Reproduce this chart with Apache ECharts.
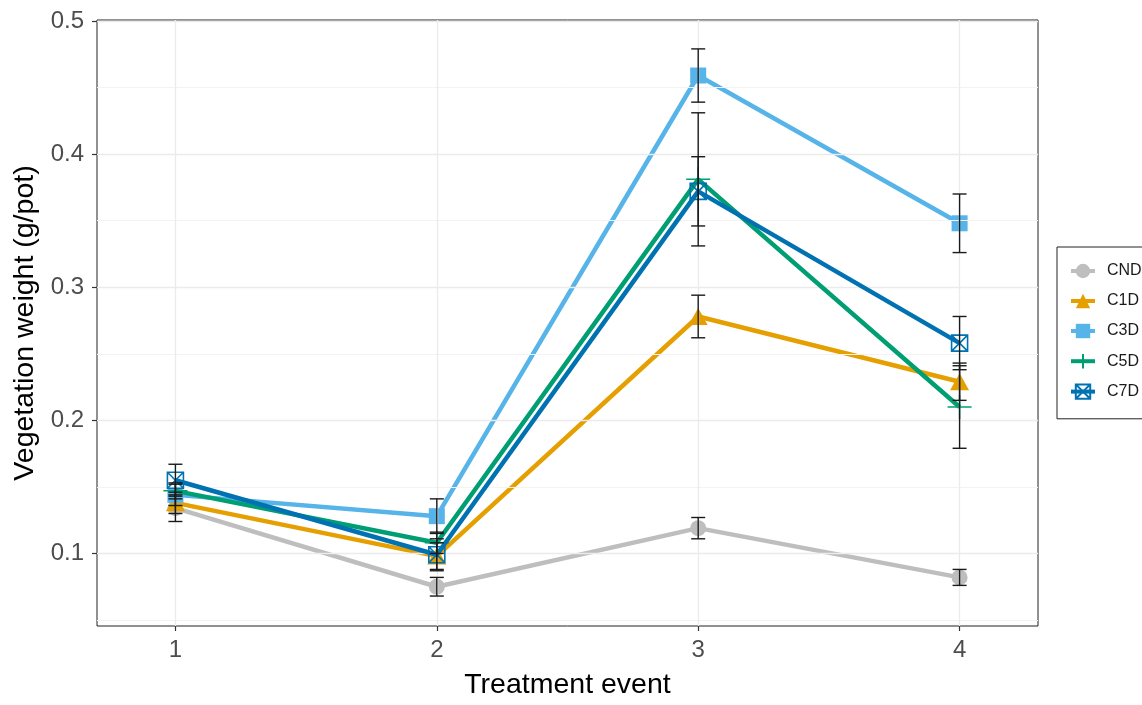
<!DOCTYPE html>
<html>
<head>
<meta charset="utf-8">
<script src="https://cdn.jsdelivr.net/npm/echarts@6/dist/echarts.min.js"></script>
<style>
html,body{margin:0;padding:0;background:#fff;}
#chart{width:1142px;height:705px;}
</style>
</head>
<body>
<div id="chart"></div>
<script>
// ---- data ----
const events = [1, 2, 3, 4];
const groups = ['CND', 'C1D', 'C3D', 'C5D', 'C7D'];
const CND = [0.134, 0.075, 0.119, 0.082];
const C1D = [0.138, 0.098, 0.278, 0.229];
const C3D = [0.144, 0.128, 0.459, 0.348];
const C5D = [0.147, 0.108, 0.381, 0.210];
const C7D = [0.155, 0.099, 0.372, 0.258];
const CND_se = [0.010, 0.007, 0.008, 0.006];
const C1D_se = [0.008, 0.010, 0.016, 0.014];
const C3D_se = [0.008, 0.013, 0.020, 0.022];
const C5D_se = [0.006, 0.008, 0.050, 0.031];
const C7D_se = [0.012, 0.012, 0.026, 0.020];
const yTicks = [0.1, 0.2, 0.3, 0.4, 0.5];
const yMinor = [0.05, 0.15, 0.25, 0.35, 0.45];
const xTicks = [1, 2, 3, 4];

const values = {CND, C1D, C3D, C5D, C7D};
const errs = {CND: CND_se, C1D: C1D_se, C3D: C3D_se, C5D: C5D_se, C7D: C7D_se};
const colors = {CND: '#BEBEBE', C1D: '#E69F00', C3D: '#56B4E9', C5D: '#009E73', C7D: '#0072B2'};
const symbols = {
  CND: 'circle',
  C1D: 'triangle',
  C3D: 'rect',
  C5D: 'path://M0,-10 L0,10 M-10,0 L10,0',
  C7D: 'path://M0,0 L10,0 L10,10 L0,10 Z M0,0 L10,10 M10,0 L0,10'
};
const sizes = {CND: 16, C1D: [19, 17], C3D: 16, C5D: 24, C7D: 16};

const series = [];
// grid lines drawn through axes (markLine)
series.push({
  type: 'line', data: [], silent: true, z: 0,
  markLine: {
    silent: true, symbol: ['none', 'none'], label: {show: false}, animation: false,
    emphasis: {disabled: true},
    data: [
      ...yMinor.map(v => ({yAxis: v, lineStyle: {color: '#f3f3f3', width: 1, type: 'solid'}})),
      ...yTicks.map(v => ({yAxis: v, lineStyle: {color: '#ebebeb', width: 1.3, type: 'solid'}})),
      ...xTicks.map(v => ({xAxis: v, lineStyle: {color: '#ebebeb', width: 1.3, type: 'solid'}}))
    ]
  }
});

groups.forEach((g, gi) => {
  const hollow = g === 'C5D' || g === 'C7D';
  series.push({
    name: g,
    type: 'line',
    data: events.map((x, i) => [x, values[g][i]]),
    symbol: symbols[g],
    symbolSize: sizes[g],
    showSymbol: true,
    z: 2 + gi,
    lineStyle: {color: colors[g], width: 4.5},
    itemStyle: hollow
      ? {color: 'rgba(0,0,0,0)', borderColor: colors[g], borderWidth: g === 'C5D' ? 1.5 : 1.6}
      : {color: colors[g], borderWidth: 0},
    emphasis: {disabled: true}
  });
});

// error bars
const errData = [];
groups.forEach(g => {
  events.forEach((x, i) => {
    errData.push([x, values[g][i] - errs[g][i], values[g][i] + errs[g][i]]);
  });
});
series.push({
  type: 'custom',
  z: 20,
  silent: true,
  data: errData,
  encode: {x: 0, y: [1, 2]},
  renderItem: function (params, api) {
    const x = api.value(0);
    const lo = api.coord([x, api.value(1)]);
    const hi = api.coord([x, api.value(2)]);
    const hw = 7;
    const st = {stroke: '#1a1a1a', lineWidth: 1.4};
    return {
      type: 'group',
      children: [
        {type: 'line', shape: {x1: lo[0], y1: lo[1], x2: hi[0], y2: hi[1]}, style: st},
        {type: 'line', shape: {x1: lo[0] - hw, y1: lo[1], x2: lo[0] + hw, y2: lo[1]}, style: st},
        {type: 'line', shape: {x1: hi[0] - hw, y1: hi[1], x2: hi[0] + hw, y2: hi[1]}, style: st}
      ]
    };
  }
});

const chart = echarts.init(document.getElementById('chart'), null, {renderer: 'canvas'});
chart.setOption({
  animation: false,
  backgroundColor: '#ffffff',
  textStyle: {fontFamily: 'Liberation Sans, Arial, sans-serif'},
  grid: {left: 97, right: 104, top: 20, bottom: 75, show: true, borderColor: '#222222', borderWidth: 1, backgroundColor: 'transparent'},
  legend: {
    data: groups,
    orient: 'vertical',
    left: 1057,
    top: 247,
    padding: [16, 40, 19, 12],
    itemWidth: 24,
    itemHeight: 18,
    itemGap: 14,
    borderColor: '#222222',
    borderWidth: 1,
    backgroundColor: '#ffffff',
    lineStyle: {width: 4},
    textStyle: {fontSize: 16, color: '#1a1a1a', fontFamily: 'Liberation Sans, Arial, sans-serif', padding: [0, 0, 0, 7]}
  },
  xAxis: {
    type: 'value',
    min: 0.7,
    max: 4.3,
    name: 'Treatment event',
    nameLocation: 'middle',
    nameGap: 45,
    nameTextStyle: {fontSize: 28.5, color: '#000'},
    axisLine: {show: false},
    axisTick: {show: true, length: 5, lineStyle: {color: '#333', width: 1.2}, customValues: xTicks},
    axisLabel: {fontSize: 24, color: '#4d4d4d', margin: 12, customValues: xTicks, formatter: v => String(v)},
    splitLine: {show: false}
  },
  yAxis: {
    type: 'value',
    min: 0.0455,
    max: 0.5007,
    name: 'Vegetation weight (g/pot)',
    nameLocation: 'middle',
    nameGap: 57,
    nameTextStyle: {fontSize: 28.5, color: '#000'},
    axisLine: {show: false},
    axisTick: {show: true, length: 5, lineStyle: {color: '#333', width: 1.2}, customValues: yTicks},
    axisLabel: {fontSize: 24, color: '#4d4d4d', margin: 13, customValues: yTicks, formatter: v => v.toFixed(1)},
    splitLine: {show: false}
  },
  series: series
});
</script>
</body>
</html>
